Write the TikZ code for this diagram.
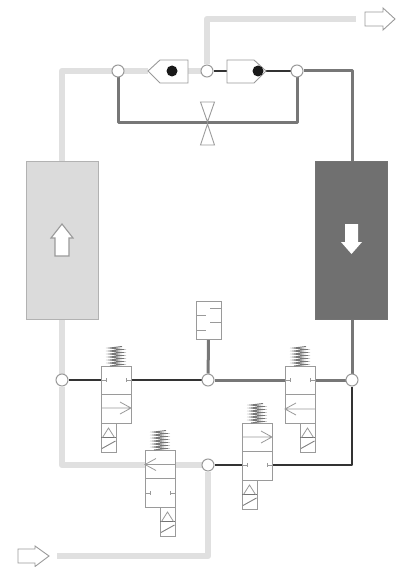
\documentclass[tikz,border=0pt]{standalone}
\usetikzlibrary{backgrounds}
\definecolor{lightpipe}{HTML}{E0E0E0}
\definecolor{midpipe}{HTML}{777777}
\definecolor{thinpipe}{HTML}{333333}
\definecolor{outl}{HTML}{9A9A9A}
\tikzset{
  lightline/.style={draw=lightpipe,line width=6.5pt,line join=round},
  midline/.style={draw=midpipe,line width=3pt,line join=round},
  thinline/.style={draw=thinpipe,line width=1.4pt,line join=round},
  junction/.style={circle,draw=outl,fill=white,line width=1pt,minimum size=12pt,inner sep=0pt},
  part/.style={draw=outl,fill=white,line width=.9pt,line join=miter},
  symb/.style={draw=outl,line width=.8pt},
  tank/.style={rectangle,minimum width=72pt,minimum height=158pt,inner sep=0pt,line width=1pt},
  ball/.style={circle,fill=black!90,minimum size=11pt,inner sep=0pt},
  pics/valve/.style n args={3}{code={
    \node[part,rectangle,minimum width=30pt,minimum height=57pt,inner sep=0pt,anchor=north west] (-body) at (0,0) {};
    \draw[symb] (0,28.5)--(30,28.5);
    #1
    #2
    \coordinate (-w1) at (0,14);
    \coordinate (-e1) at (30,14);
    \coordinate (-w2) at (0,42.5);
    \coordinate (-e2) at (30,42.5);
    % spring
    \draw[draw=midpipe,line width=1pt] (9,0)--(21,-1.5)--(9,-3)--(21,-4.5)--(9,-6)--(21,-7.5)--(9,-9)--(21,-10.5)--(9,-12)--(21,-13.5)--(9,-15)--(21,-16.5)--(9,-18)--(21,-19.5);
    % solenoid
    \draw[part] (#3,57) rectangle ++(15,29);
    \draw[draw=black!55,line width=1.1pt] (#3,71.5)--++(15,0);
    \draw[symb] (#3+1.5,71.5)--(#3+7.5,62)--(#3+13.5,71.5);
    \draw[draw=black!50,line width=.9pt] (#3+1,82.5)--(#3+14.5,75);
  }}
}
\newcommand{\vticks}[1]{\draw[symb] (0,#1)--(5,#1) (5,#1-2)--(5,#1+2) (30,#1)--(25,#1) (25,#1-2)--(25,#1+2);}
\newcommand{\varrowR}[1]{\draw[symb] (0,#1)--(30,#1) (19,#1-6)--(30,#1)--(19,#1+6);}
\newcommand{\varrowL}[1]{\draw[symb] (0,#1)--(30,#1) (11,#1-6)--(0,#1)--(11,#1+6);}
\begin{document}
\begin{tikzpicture}[x=1pt,y=-1pt]
\useasboundingbox (0,0) rectangle (396,567);
% tanks
\node[tank,draw=black!30,fill=black!14] (T1) at (62,240) {};
\node[tank,draw=black!55,fill=black!56] (T2) at (351,240) {};
\draw[part,line width=1.1pt] (62,224)--(73,238)--(69,238)--(69,256)--(55,256)--(55,238)--(51,238)--cycle;
\fill[white] (345,224)--(358,224)--(358,242)--(362,242)--(351.5,254)--(341,242)--(345,242)--cycle;
% junctions
\node[junction] (jTL) at (118,71) {};
\node[junction] (jTM) at (207,71) {};
\node[junction] (jTR) at (297,71) {};
\node[junction] (jBL) at (62,380) {};
\node[junction] (jBM) at (208,380) {};
\node[junction] (jBR) at (352,380) {};
\node[junction] (jLow) at (208,465) {};
\coordinate (cTL) at (jBL |- jTL);
\coordinate (cTR) at (jBR |- jTR);
% check valves
\draw[part] (148,71)--(160,60)--(188,60)--(188,83)--(160,83)--cycle;
\coordinate (cvLw) at (148,71);
\coordinate (cvLe) at (188,71);
\node[ball] (bL) at (172,71) {};
\draw[part] (227,60)--(254,60)--(266,71)--(254,83)--(227,83)--cycle;
\coordinate (cvRw) at (227,71);
\coordinate (cvRe) at (266,71);
\node[ball] (bR) at (258,71) {};
% throttle
\coordinate (thr) at (207.5,123);
\draw[part] (200.5,102)--(214.5,102)--(207.5,122)--cycle;
\draw[part] (200.5,145)--(214.5,145)--(207.5,124)--cycle;
% filter
\node[part,rectangle,minimum width=25pt,minimum height=38pt,inner sep=0pt] (F) at (208.5,320) {};
\draw[symb] (210,308.5)--(221,308.5) (210,322.5)--(221,322.5) (196,315)--(206,315) (196,330)--(206,330);
% valves
\pic (V1) at (101,366) {valve={\vticks{14}}{\varrowR{42}}{0}};
\pic (V2) at (285,366) {valve={\vticks{14}}{\varrowL{43}}{15}};
\pic (V3) at (242,423) {valve={\varrowR{14}}{\vticks{42}}{0}};
\pic (V4) at (145,450) {valve={\varrowL{14.5}}{\vticks{43}}{15}};
% inlet/outlet arrows
\draw[part] (365,12)--(383,12)--(383,8)--(395,19)--(383,30)--(383,26)--(365,26)--cycle;
\draw[part] (18,549)--(35,549)--(35,546)--(49,556)--(35,566.5)--(35,563)--(18,563)--cycle;
\coordinate (outEnd) at (356,19);
\coordinate (inEnd) at (57,556);
% pipes
\begin{scope}[on background layer]
\draw[lightline] (T1.north -| jBL) -- (cTL) -- (cvLw);
\draw[lightline] (cvLe) -- (jTM);
\draw[lightline] (jTM) -- (jTM |- outEnd) -- (outEnd);
\draw[lightline] (T1.south -| jBL) -- (jBL);
\draw[lightline] (jBL) -- (jBL |- jLow) -- (V4-w1 |- jLow);
\draw[lightline] (V4-e1 |- jLow) -- (jLow);
\draw[lightline] (jLow) -- (jLow |- inEnd) -- (inEnd);
\draw[thinline] (jTM) -- (cvRw);
\draw[thinline] (cvRe) -- (jTR);
\draw[midline] (jTR) -- (cTR) -- (T2.north -| jBR);
\draw[midline] (jTL) -- (jTL |- thr) -- (thr) -- (jTR |- thr) -- (jTR);
\draw[midline] (T2.south -| jBR) -- (jBR);
\draw[midline] (F.south) -- (jBM);
\draw[thinline] (jBL) -- (V1-w1);
\draw[thinline] (V1-e1) -- (jBM);
\draw[midline] (jBM) -- (V2-w1);
\draw[midline] (V2-e1) -- (jBR);
\draw[thinline] (jBR) -- (jBR |- jLow) -- (V3-e2 |- jLow);
\draw[thinline] (V3-w2 |- jLow) -- (jLow);
\end{scope}
\end{tikzpicture}
\end{document}
